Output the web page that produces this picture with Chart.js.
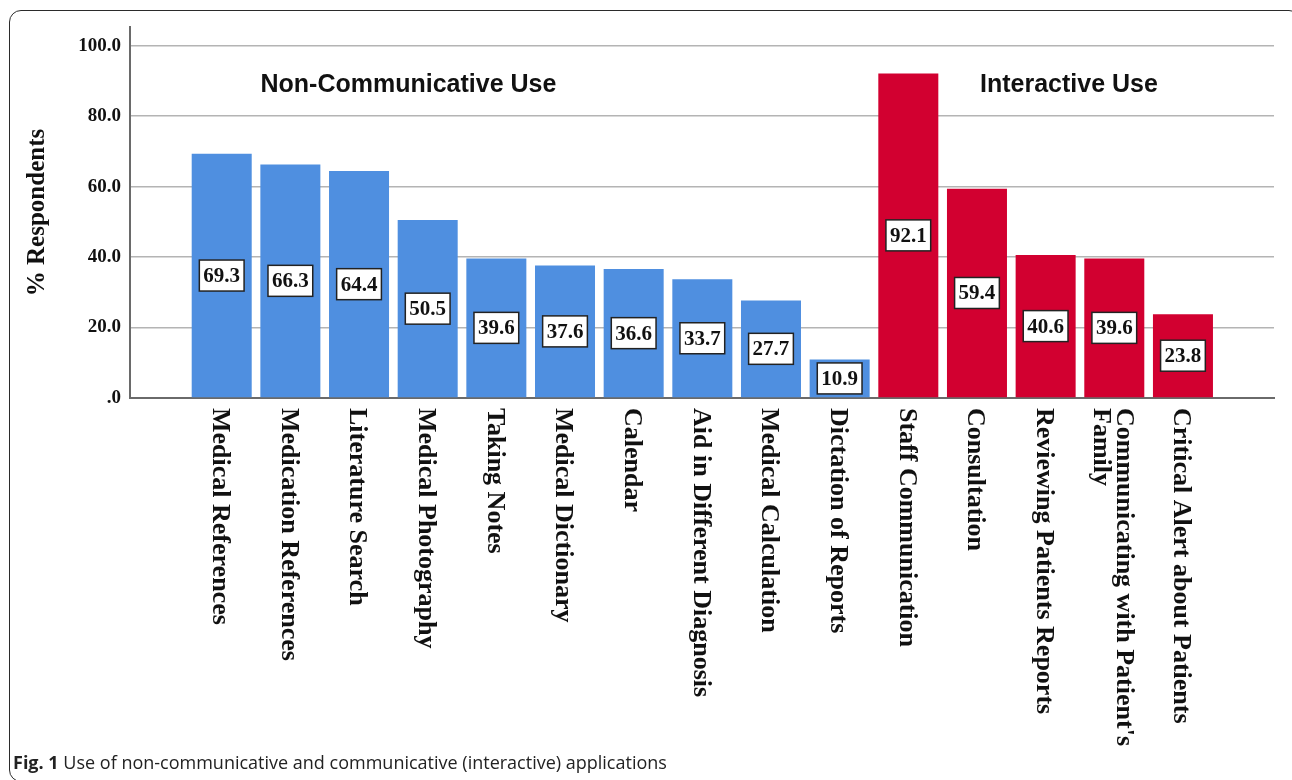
<!DOCTYPE html>
<html lang="en">
<head>
<meta charset="UTF-8">
<title>Fig. 1 - Use of applications</title>
<script src="https://cdn.jsdelivr.net/npm/chart.js@4.4.1/dist/chart.umd.min.js"></script>
<style>
  html, body { margin: 0; padding: 0; background: #fff; }
  body { width: 1292px; height: 780px; position: relative; overflow: hidden; }
  #chart { position: absolute; left: 0; top: 0; }
  .frame { position: absolute; left: 9px; top: 10px; width: 1292px; height: 772px; border: 1.5px solid #2b2b2b; border-radius: 12px; box-sizing: border-box; pointer-events: none; }
  .caption { position: absolute; left: 13px; top: 750px; font-family: "Open Sans", sans-serif; font-size: 18px; color: #222; white-space: nowrap; }
  .caption b { font-weight: 700; }
</style>
</head>
<body>
<canvas id="chart" width="1292" height="780"></canvas>
<div class="frame"></div>
<div class="caption"><b>Fig. 1</b> Use of non-communicative and communicative (interactive) applications</div>

<script>
  // non-communicative apps (blue) and interactive apps (red), % respondents
  const nonCommLabels = ['Medical References', 'Medication References', 'Literature Search',
    'Medical Photography', 'Taking Notes', 'Medical Dictionary', 'Calendar',
    'Aid in Different Diagnosis', 'Medical Calculation', 'Dictation of Reports'];
  const nonCommValues = [69.3, 66.3, 64.4, 50.5, 39.6, 37.6, 36.6, 33.7, 27.7, 10.9];

  const interactiveLabels = ['Staff Communication', 'Consultation', 'Reviewing Patients Reports',
    ["Communicating with Patient's", 'Family'], 'Critical Alert about Patients'];
  const interactiveValues = [92.1, 59.4, 40.6, 39.6, 23.8];

  const yTicks = [0, 20, 40, 60, 80, 100];
  const yTickLabels = ['.0', '20.0', '40.0', '60.0', '80.0', '100.0'];
  const groupTitles = ['Non-Communicative Use', 'Interactive Use'];

  const BLUE = '#4f8fe0';
  const RED = '#d20030';
  const SERIF = '"Liberation Serif", "Times New Roman", serif';
  const SANS = '"Liberation Sans", Arial, sans-serif';

  const labels = nonCommLabels.concat(interactiveLabels);
  const values = nonCommValues.concat(interactiveValues);
  const colors = labels.map((_, i) => i < nonCommLabels.length ? BLUE : RED);

  // white boxed value in the middle of each bar
  const valueBoxes = {
    id: 'valueBoxes',
    afterDatasetsDraw(chart) {
      const ctx = chart.ctx;
      const meta = chart.getDatasetMeta(0);
      ctx.save();
      ctx.font = 'bold 21px ' + SERIF;
      ctx.textAlign = 'center';
      ctx.textBaseline = 'middle';
      meta.data.forEach((bar, i) => {
        const txt = values[i].toFixed(1);
        const cy = (bar.y + bar.base) / 2;
        const w = ctx.measureText(txt).width + 8;
        const h = 31;
        ctx.fillStyle = '#fff';
        ctx.fillRect(bar.x - w / 2, cy - h / 2, w, h);
        ctx.strokeStyle = '#222';
        ctx.lineWidth = 1.5;
        ctx.strokeRect(bar.x - w / 2, cy - h / 2, w, h);
        ctx.fillStyle = '#111';
        ctx.fillText(txt, bar.x, cy + 1);
      });
      ctx.restore();
    }
  };

  // category names, turned to read downwards under each bar
  const xLabels = {
    id: 'xLabels',
    afterDraw(chart) {
      const ctx = chart.ctx;
      const xs = chart.scales.x;
      const top = chart.chartArea.bottom + 10;
      ctx.save();
      ctx.font = 'bold 26px ' + SERIF;
      ctx.fillStyle = '#111';
      ctx.textAlign = 'left';
      ctx.textBaseline = 'middle';
      labels.forEach((lab, i) => {
        const lines = Array.isArray(lab) ? lab : [lab];
        ctx.save();
        ctx.translate(xs.getPixelForValue(i) - 2, top);
        ctx.rotate(Math.PI / 2);
        lines.forEach((ln, j) => {
          ctx.fillText(ln, 0, (j - (lines.length - 1) / 2) * 23);
        });
        ctx.restore();
      });
      ctx.restore();
    }
  };

  // group headings inside the plot
  const groupHeads = {
    id: 'groupHeads',
    afterDraw(chart) {
      const ctx = chart.ctx;
      const xs = chart.scales.x, ys = chart.scales.y;
      const at = [[2.72, 88.8], [12.34, 88.8]];
      ctx.save();
      ctx.font = 'bold 25px ' + SANS;
      ctx.fillStyle = '#111';
      ctx.textAlign = 'center';
      ctx.textBaseline = 'middle';
      groupTitles.forEach((t, i) => {
        ctx.fillText(t, xs.getPixelForValue(at[i][0]), ys.getPixelForValue(at[i][1]));
      });
      ctx.restore();
    }
  };

  new Chart(document.getElementById('chart'), {
    type: 'bar',
    data: {
      datasets: [{
        data: values.map((v, i) => ({ x: i, y: v })),
        backgroundColor: colors,
        borderWidth: 0,
        categoryPercentage: 1,
        barPercentage: 0.874
      }]
    },
    options: {
      responsive: false,
      animation: false,
      layout: { padding: { top: 27, right: 18, bottom: 0, left: 0 } },
      plugins: { legend: { display: false }, tooltip: { enabled: false } },
      scales: {
        x: {
          type: 'linear',
          offset: false,
          min: -1.3356,
          max: 15.326,
          grid: { display: false, offset: false },
          border: { display: true, color: '#6a6a6a', width: 2 },
          ticks: { display: false },
          afterFit(scale) { scale.height = 382; }
        },
        y: {
          min: 0,
          max: 105.3,
          grid: { color: '#b4b4b4', lineWidth: 1.5, drawTicks: false },
          border: { display: true, color: '#6a6a6a', width: 2 },
          afterBuildTicks(scale) { scale.ticks = yTicks.map(v => ({ value: v })); },
          ticks: {
            padding: 9,
            color: '#111',
            font: { family: SERIF, size: 19, weight: 'bold' },
            callback: (v) => yTickLabels[yTicks.indexOf(v)]
          },
          title: {
            display: true,
            text: '% Respondents',
            color: '#111',
            font: { family: SERIF, size: 25, weight: 'bold' },
            padding: { top: 23, bottom: 0 }
          },
          afterFit(scale) { scale.width = 130; }
        }
      }
    },
    plugins: [valueBoxes, xLabels, groupHeads]
  });
</script>
</body>
</html>
